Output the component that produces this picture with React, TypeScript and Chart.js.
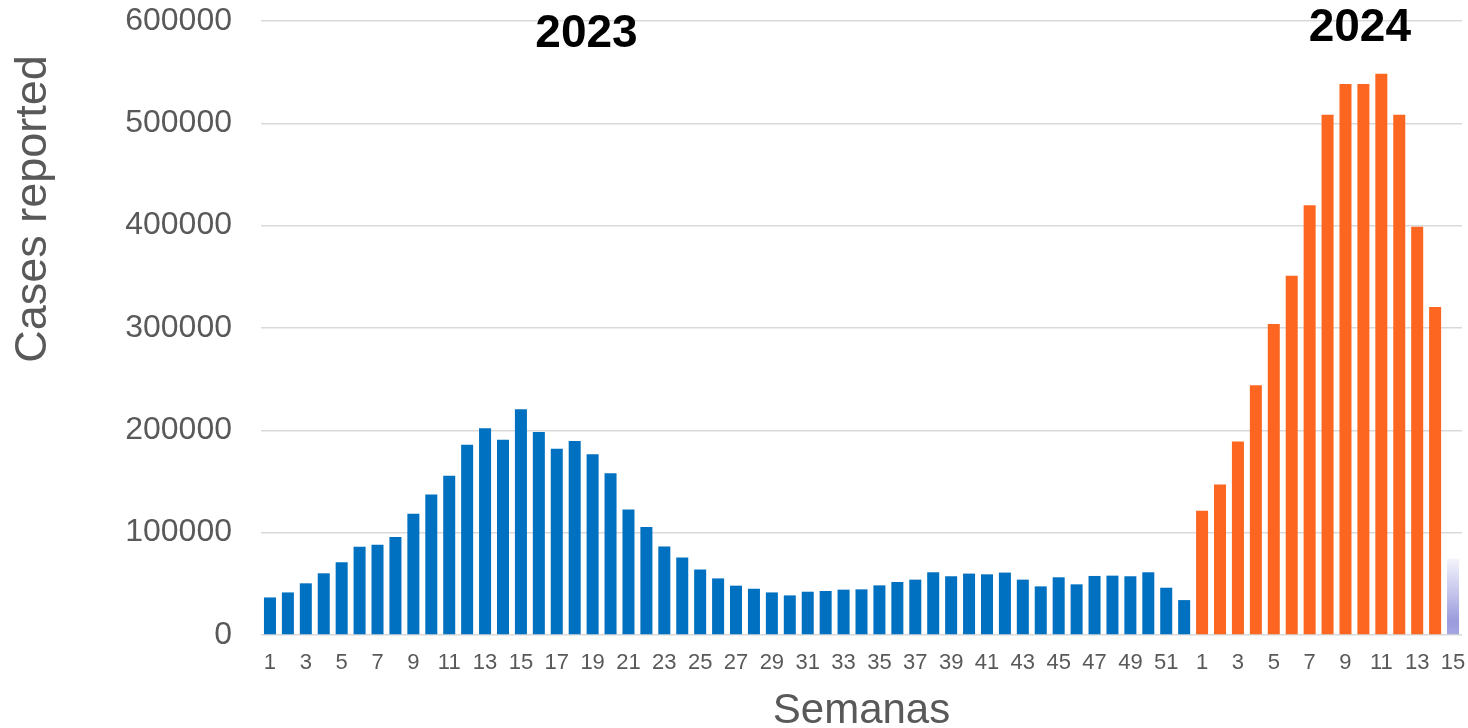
import React, { useEffect, useRef } from "react";
import { Chart, registerables } from "chart.js";

Chart.register(...registerables);

// ---- data ----
const weekLabels2023 = [
  "1", "2", "3", "4", "5", "6", "7", "8", "9", "10", "11", "12", "13",
  "14", "15", "16", "17", "18", "19", "20", "21", "22", "23", "24", "25", "26",
  "27", "28", "29", "30", "31", "32", "33", "34", "35", "36", "37", "38", "39",
  "40", "41", "42", "43", "44", "45", "46", "47", "48", "49", "50", "51", "52",
];
const weekLabels2024 = [
  "1", "2", "3", "4", "5", "6", "7", "8", "9", "10", "11", "12", "13", "14", "15",
];
const cases2023 = [
  36700, 41600, 50500, 60300, 71100, 86200, 88200, 95700, 118400, 137400,
  155700, 185900, 202000, 190800, 220700, 198400, 182000, 189500, 176700, 158000,
  122600, 105600, 86600, 75700, 63900, 55300, 48200, 45200, 41600, 38700,
  42300, 43000, 44300, 44600, 48500, 51800, 54100, 61300, 57400, 60000,
  59300, 61000, 54100, 47500, 56400, 49500, 57700, 58000, 57400, 61300,
  46200, 34100,
];
const cases2024 = [
  121500, 147000, 189000, 244000, 304000, 351000, 420000, 508500, 538500,
  538500, 548500, 508500, 399000, 320500, 74500,
];
const yearLabels = ["2023", "2024"];
const yTicks = [0, 100000, 200000, 300000, 400000, 500000, 600000];
const yTitle = "Cases reported";
const xTitle = "Semanas";

const BLUE = "#0070C0";
const ORANGE = "#FC6621";
const GREY = "#595959";
const FONT = "'Liberation Sans', Arial, sans-serif";

export default function App() {
  const ref = useRef<HTMLCanvasElement | null>(null);

  useEffect(() => {
    const canvas = ref.current;
    if (!canvas) return;
    const labels = [...weekLabels2023, ...weekLabels2024];
    const values = [...cases2023, ...cases2024];
    const n2023 = cases2023.length;
    const lastIdx = values.length - 1;

    const textPlugin = {
      id: "texts",
      afterDraw(chart: any) {
        const { ctx, chartArea, scales } = chart;
        const x = scales.x;
        ctx.save();
        // y title
        ctx.fillStyle = GREY;
        ctx.font = `45px ${FONT}`;
        ctx.textAlign = "center";
        ctx.textBaseline = "alphabetic";
        ctx.translate(46, 209);
        ctx.rotate(-Math.PI / 2);
        ctx.fillText(yTitle, 0, 0);
        ctx.restore();

        ctx.save();
        ctx.fillStyle = GREY;
        ctx.font = `42px ${FONT}`;
        ctx.textAlign = "center";
        ctx.textBaseline = "alphabetic";
        ctx.fillText(xTitle, (chartArea.left + chartArea.right) / 2, 723);

        ctx.fillStyle = "#000000";
        ctx.font = `bold 46px ${FONT}`;
        ctx.fillText(yearLabels[0], x.getPixelForValue(17.66), 47);
        ctx.fillText(yearLabels[1], x.getPixelForValue(60.8), 41);
        ctx.restore();
      },
    };

    const chart = new Chart(canvas, {
      type: "bar",
      data: {
        labels,
        datasets: [
          {
            data: values,
            backgroundColor: (c: any) => {
              const i = c.dataIndex;
              if (i < n2023) return BLUE;
              if (i === lastIdx) {
                const ch = c.chart;
                const ys = ch.scales && ch.scales.y;
                if (!ch.chartArea || !ys) return "#a0a0e0";
                const top = ys.getPixelForValue(values[i]);
                const bottom = ys.getPixelForValue(0);
                const g = ch.ctx.createLinearGradient(0, top, 0, bottom);
                g.addColorStop(0, "#f4f4fb");
                g.addColorStop(0.45, "#c4c4ec");
                g.addColorStop(0.82, "#9a9add");
                g.addColorStop(1, "#a6a6e2");
                return g;
              }
              return ORANGE;
            },
            borderWidth: 0,
            categoryPercentage: 1,
            barPercentage: 0.67,
          },
        ],
      },
      options: {
        animation: false,
        responsive: false,
        devicePixelRatio: 1,
        layout: { padding: { top: 21, right: 6, left: 0, bottom: 0 } },
        plugins: {
          legend: { display: false },
          tooltip: { enabled: false },
          title: { display: false },
        },
        scales: {
          x: {
            grid: { display: false, drawTicks: false },
            border: { display: false },
            ticks: {
              autoSkip: false,
              maxRotation: 0,
              minRotation: 0,
              padding: 15,
              color: GREY,
              font: { family: FONT, size: 22 },
              callback: (_v: any, idx: number) => (idx % 2 === 0 ? labels[idx] : ""),
            },
            afterFit: (s: any) => {
              s.height = 93;
              s.paddingLeft = 0;
              s.paddingRight = 0;
            },
          },
          y: {
            min: yTicks[0],
            max: yTicks[yTicks.length - 1],
            grid: { color: "#d9d9d9", lineWidth: 1.5, drawTicks: false },
            border: { display: false },
            afterBuildTicks: (s: any) => {
              s.ticks = yTicks.map((v) => ({ value: v }));
            },
            ticks: {
              padding: 29,
              color: GREY,
              font: { family: FONT, size: 32 },
              callback: (v: any) => String(v),
            },
            afterFit: (s: any) => {
              s.width = 261;
              s.paddingTop = 0;
              s.paddingBottom = 0;
            },
          },
        },
      },
      plugins: [textPlugin],
    });
    return () => chart.destroy();
  }, []);

  return (
    <div style={{ position: "fixed", left: 0, top: 0, width: 1468, height: 728, background: "#fff" }}>
      <canvas ref={ref} width={1468} height={728} style={{ display: "block" }} />
    </div>
  );
}
